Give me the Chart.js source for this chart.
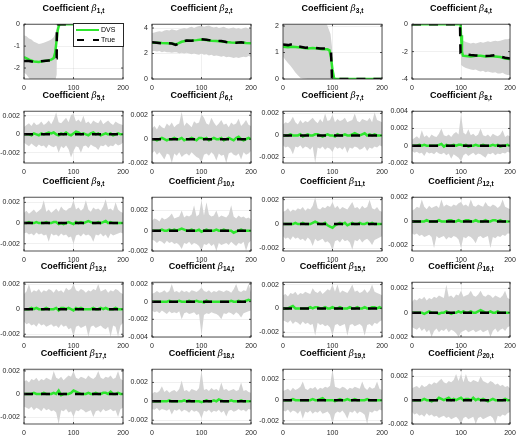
<!DOCTYPE html>
<html>
<head>
<meta charset="utf-8">
<script src="https://cdn.jsdelivr.net/npm/chart.js"></script>
<style>
body{margin:0;width:519px;height:446px;position:relative;overflow:hidden;background:#fff;font-family:"Liberation Sans",Arial,sans-serif}
canvas{position:absolute}
.ttl{position:absolute;font-size:9px;font-weight:bold;text-align:center;white-space:nowrap;color:#000;line-height:12px}
.ttl i{font-weight:normal;font-family:"DejaVu Serif",serif;font-size:9px}
.ttl sub{font-size:6.5px;vertical-align:-2px}
.lg{position:absolute;left:73px;top:23px;width:49px;height:22px;border:0.7px solid #262626;background:#fff;font-size:7px;color:#000}
.lg .s{position:absolute;height:2.4px}
.lg .t{position:absolute;left:27px;line-height:8px}
</style>
</head>
<body>
<script>
// time grid for the noise panels
const tGrid = [0,5,10,15,20,25,30,35,40,45,50,55,60,65,70,75,80,85,90,95,100,105,110,115,120,125,130,135,140,145,150,155,160,165,170,175,180,185,190,195,200];
const xTicks = [0,100,200];

// beta 1
const bandX1 = [0,5,10,15,20,25,30,35,40,45,50,55,60,63,66,67,200];
const up1 = [-0.5,-0.55,-0.65,-0.7,-0.8,-0.85,-0.9,-0.88,-0.85,-0.8,-0.75,-0.7,-0.6,-0.45,-0.2,0,0];
const lo1 = [-2.2,-2.3,-2.45,-2.6,-2.6,-2.6,-2.6,-2.6,-2.6,-2.6,-2.6,-2.6,-2.6,-2.6,-2.3,0,0];
const dvsX1 = [0,10,20,30,40,50,55,60,63,66,68,70,72,200];
const dvsY1 = [-1.5,-1.62,-1.7,-1.72,-1.68,-1.65,-1.62,-1.55,-1.3,-0.7,-0.3,-0.1,0,0];
const trueX1 = [0,10,20,30,40,50,60,62,66,66.5,200];
const trueY1 = [-1.68,-1.68,-1.72,-1.7,-1.68,-1.66,-1.64,-1.55,-1.55,0,0];

// beta 2
const up2 = [3.6,3.65,3.7,3.75,3.7,3.8,3.85,3.8,3.9,3.85,3.8,3.9,3.95,4.0,3.95,4.05,4.1,4.0,4.1,4.15,4.2,4.1,4.15,4.2,4.1,4.05,4.1,4.0,4.05,4.1,4.0,3.95,4.0,4.05,3.95,4.0,3.9,4.0,4.05,3.95,4.0];
const lo2 = [2.2,2.2,2.15,2.2,2.1,2.15,2.1,2.1,2.05,2.1,2.1,2.0,2.05,2.0,2.05,2.0,1.95,2.0,1.95,1.9,2.0,1.9,1.95,1.85,1.9,1.8,1.85,1.8,1.75,1.8,1.7,1.75,1.7,1.65,1.7,1.65,1.7,1.75,1.7,1.8,1.75];
const lineX2 = [0,10,20,30,40,48,52,60,70,80,90,100,110,120,130,140,150,160,170,180,190,200];
const dvsY2 = [2.85,2.85,2.82,2.8,2.78,2.72,2.78,2.92,3.0,3.02,3.05,3.1,3.06,3.0,2.98,2.95,2.9,2.86,2.85,2.86,2.82,2.8];
const trueY2 = [2.88,2.85,2.8,2.82,2.78,2.68,2.75,2.95,3.02,3.0,3.05,3.12,3.08,3.02,3.0,2.98,2.9,2.85,2.85,2.88,2.82,2.82];

// beta 3
const bandX3 = [0,5,10,15,20,25,30,35,40,50,60,70,80,88,92,96,99,101,200];
const up3 = [2.2,2.2,2.2,2.2,2.2,2.2,2.2,2.2,2.2,2.2,2.2,2.2,2.2,2.1,1.9,1.7,1.2,0,0];
const lo3 = [0.85,0.72,0.6,0.5,0.38,0.25,0.14,0.05,0.02,0,0,0,0,0,0,0,0,0,0];
const dvsX3 = [0,10,20,30,40,50,60,70,80,90,94,97,100,103,105,200];
const dvsY3 = [1.22,1.2,1.22,1.2,1.18,1.15,1.17,1.15,1.12,1.12,1.08,0.8,0.35,0.05,0,0];
const trueX3 = [0,10,20,25,35,45,55,65,75,85,92,97,99,200];
const trueY3 = [1.3,1.28,1.32,1.25,1.22,1.18,1.2,1.18,1.15,1.15,1.12,1.05,0,0];

// beta 4
const bandX4 = [0,100,101,105,110,115,120,125,130,135,140,145,150,155,160,165,170,175,180,185,190,195,200];
const up4 = [0,0,-1.1,-1.2,-1.3,-1.35,-1.4,-1.35,-1.4,-1.35,-1.3,-1.35,-1.3,-1.25,-1.3,-1.25,-1.2,-1.25,-1.2,-1.15,-1.1,-1.1,-1.05];
const lo4 = [0,0,-3.0,-3.1,-3.2,-3.25,-3.3,-3.35,-3.3,-3.4,-3.45,-3.4,-3.5,-3.45,-3.5,-3.55,-3.5,-3.6,-3.6,-3.55,-3.65,-3.7,-3.7];
const dvsX4 = [0,99,100,102,104,110,120,130,140,150,160,170,180,190,200];
const dvsY4 = [0,0,-0.8,-2.0,-2.3,-2.32,-2.35,-2.3,-2.3,-2.35,-2.32,-2.35,-2.4,-2.5,-2.55];
const trueX4 = [0,98,99,110,120,130,140,150,160,170,180,190,200];
const trueY4 = [0,0,-2.1,-2.2,-2.25,-2.28,-2.3,-2.32,-2.3,-2.25,-2.35,-2.45,-2.5];

// beta 5..20 (values in units of 0.001), true value is zero
const zeroX = [0,200];
const zeroY = [0,0];
const up5 = [0.8,1.0,1.2,0.9,1.3,1.0,1.1,1.4,1.0,1.2,1.5,1.1,1.6,2.4,1.3,1.2,1.5,1.8,1.3,2.1,2.2,1.4,1.6,1.3,2.0,1.2,1.4,1.1,1.5,1.3,1.2,1.6,1.1,1.3,1.5,1.2,1.0,1.4,1.2,1.1,1.0];
const lo5 = [-0.9,-1.1,-1.3,-1.0,-1.2,-1.4,-1.1,-1.3,-1.2,-1.5,-1.1,-1.3,-1.4,-1.2,-2.0,-1.3,-1.5,-1.2,-1.6,-2.5,-1.8,-1.3,-1.4,-2.0,-1.3,-1.2,-1.5,-1.1,-1.3,-1.4,-1.7,-1.2,-1.3,-1.1,-1.4,-1.2,-1.3,-1.0,-1.2,-1.1,-0.9];
const dvs5 = [0,0,0,-0.1,0.1,0,-0.1,0.1,0,0.1,0.2,0.1,0.2,0,-0.1,0.1,0,0.2,0,-0.1,0.1,0.3,0.2,0,0.1,0,-0.1,0.1,0.2,0,0.1,-0.1,0,0.1,0,0.1,-0.1,0,0.1,0,0];
const up6 = [0.9,1.1,0.8,1.2,1.0,0.9,1.3,1.1,1.4,1.0,1.2,1.3,2.3,1.1,1.4,1.2,1.0,1.5,1.3,1.4,2.1,1.8,1.3,1.2,1.8,1.4,1.1,1.3,1.6,1.2,1.3,1.0,1.4,1.2,1.3,1.7,1.1,1.3,1.6,1.2,1.1];
const lo6 = [-1.2,-1.0,-1.3,-1.1,-1.4,-1.7,-1.2,-1.3,-2.0,-1.2,-1.4,-1.1,-1.5,-1.3,-1.2,-1.4,-1.1,-1.3,-1.5,-1.6,-2.0,-1.3,-1.2,-1.4,-1.1,-1.3,-1.8,-1.2,-1.4,-1.3,-2.0,-1.2,-1.1,-1.3,-1.4,-1.2,-1.7,-1.1,-1.3,-1.2,-1.0];
const dvs6 = [0,0,-0.1,0,0.1,0,-0.1,0,0,0.1,0,0,0.1,-0.1,0,0,0.1,0,-0.1,0.1,0.1,0,0.1,-0.1,0,0.1,0,0,0.1,-0.1,0,0.1,0,-0.1,0.1,0.2,0,-0.1,0,0.1,0];
const up7 = [1.0,1.2,1.1,1.3,1.7,1.2,1.0,1.4,1.1,1.3,1.2,1.4,1.6,1.3,1.1,1.5,1.2,2.0,1.3,1.4,1.9,1.2,1.5,1.3,1.4,1.6,1.2,1.3,1.4,2.0,1.3,1.2,1.5,1.4,1.3,1.6,1.2,2.1,1.4,1.3,1.2];
const lo7 = [-0.9,-1.1,-1.0,-1.2,-1.7,-1.0,-1.1,-0.9,-1.2,-1.0,-1.1,-1.3,-1.0,-2.5,-1.1,-1.2,-1.0,-1.3,-1.1,-1.2,-1.5,-1.0,-1.2,-1.1,-1.3,-1.0,-1.6,-1.1,-1.2,-1.0,-1.1,-1.3,-1.2,-1.0,-1.4,-1.1,-1.2,-1.0,-1.1,-0.9,-1.0];
const dvs7 = [0,0,0,0.1,0,0,0,0.1,-0.1,0,0.1,0,0,0.1,0.1,0,-0.1,0,0.1,0,0,-0.1,0.1,0,0,0.1,0,0,0.1,0.2,0.1,0,0.1,0.2,0,0.1,0,0.1,0,0,0];
const up8 = [0.7,0.9,1.1,0.8,1.8,1.0,1.2,0.9,1.3,1.1,1.0,1.4,2.0,1.2,1.1,1.3,1.0,1.4,1.6,1.3,3.7,1.5,1.3,1.9,1.2,1.4,1.1,1.3,2.0,1.2,1.1,1.3,1.0,1.4,1.2,1.1,1.3,1.8,1.0,1.2,1.1];
const lo8 = [-0.6,-0.8,-0.7,-0.9,-0.8,-1.2,-0.7,-0.9,-0.8,-1.0,-0.7,-0.9,-1.0,-0.8,-1.1,-0.9,-1.5,-1.0,-1.2,-1.4,-1.8,-1.1,-0.9,-1.2,-1.0,-0.8,-1.1,-0.9,-1.0,-1.2,-1.4,-0.9,-1.0,-0.8,-1.1,-0.9,-1.0,-0.8,-0.9,-0.7,-0.8];
const dvs8 = [0,0,0,0.1,0,0.1,0,0,0,0,0,0.1,0.2,-0.1,0.1,0,0,0.1,0,0.1,0.1,0,0.1,-0.1,0,0,0.1,0,0,0.1,0,0,0,0.1,0,0.1,-0.1,0,0,0.1,0];
const up9 = [1.0,1.2,0.9,1.1,1.3,1.0,1.2,1.4,2.2,1.1,1.3,1.0,1.2,1.4,1.1,1.6,1.3,1.2,1.4,1.5,2.2,1.3,1.5,1.2,1.4,2.2,1.3,1.1,1.5,1.3,1.4,1.2,1.6,2.3,1.3,1.4,1.2,2.0,1.3,1.1,1.0];
const lo9 = [-1.0,-0.9,-1.1,-1.0,-1.2,-0.9,-1.1,-1.0,-1.2,-1.1,-1.8,-1.0,-1.2,-1.1,-1.3,-1.0,-1.2,-1.1,-1.4,-1.3,-2.0,-1.2,-1.1,-1.3,-1.0,-1.2,-1.1,-1.3,-1.8,-1.1,-1.2,-1.0,-1.3,-1.1,-1.5,-1.0,-1.2,-1.1,-1.0,-0.9,-1.0];
const dvs9 = [0,0,0.1,0,0,0.1,0,0,0,0.1,0,0,0.1,0.1,-0.1,0,-0.1,0,0.1,0,-0.1,0.1,0,0.1,0,0.1,0.2,0.1,0,0,0.1,0,0.1,0.2,0,0.1,0,0,0,0,0];
const up10 = [1.0,1.2,1.1,0.9,1.3,1.1,1.2,1.4,1.7,1.2,1.3,1.4,2.0,1.3,1.5,1.4,1.6,2.5,1.4,1.6,3.0,1.5,2.8,1.6,1.4,1.5,2.0,1.3,1.5,1.4,1.3,1.6,2.5,1.4,1.2,1.5,1.3,1.4,1.2,1.3,1.1];
const lo10 = [-0.9,-1.0,-1.2,-1.0,-1.1,-1.3,-1.0,-1.2,-1.1,-1.3,-1.2,-1.4,-1.8,-1.2,-1.3,-1.1,-1.4,-1.2,-1.3,-1.5,-2.0,-1.3,-1.4,-1.2,-1.5,-1.3,-2.0,-1.2,-1.4,-1.3,-1.2,-1.4,-1.1,-1.3,-1.5,-1.2,-1.3,-1.1,-2.0,-1.2,-1.0];
const dvs10 = [0,0,0,0,0.1,0,0,0.1,0,0.1,0,0.1,0.2,0.1,0,0,0.1,0,0,0.1,-0.1,0,0.1,0,0,0,0.1,0,0,0.1,0,0,0,-0.2,-0.1,0,0.1,0,0,0,0];
const up11 = [1.0,1.1,1.3,1.0,1.2,1.1,1.3,1.2,1.4,1.1,1.3,1.2,1.5,2.2,1.3,1.2,1.4,1.3,1.5,1.4,1.8,1.3,1.5,1.2,1.4,1.3,1.2,1.5,1.8,1.3,1.4,1.2,1.5,1.3,1.4,2.0,1.3,1.2,1.4,1.1,1.0];
const lo11 = [-1.0,-1.2,-1.1,-1.3,-1.0,-1.2,-1.1,-1.3,-1.2,-1.4,-1.1,-1.3,-1.8,-1.2,-1.4,-1.3,-1.2,-1.5,-1.4,-1.6,-2.2,-1.4,-1.3,-1.5,-1.2,-1.4,-1.3,-1.5,-2.1,-1.3,-1.4,-1.2,-1.5,-1.3,-1.2,-1.4,-1.7,-1.3,-1.2,-1.1,-1.0];
const dvs11 = [0,0,0,0,0,0.1,0,0,0.1,0,0,0,0.1,0.2,0.1,0,0,0.1,-0.1,-0.2,-0.3,-0.1,0,0.1,0,0.1,-0.1,0,0.1,0,0,0.1,0,0,0.1,0,0.1,0,0,0,0];
const up12 = [0.9,1.0,1.2,1.1,1.8,1.2,1.0,1.3,1.1,1.2,1.3,1.1,1.8,1.2,1.4,1.3,1.2,1.4,1.3,1.5,1.6,1.3,1.4,1.2,1.8,1.3,1.2,1.4,1.3,1.2,1.6,1.3,1.2,1.4,1.3,1.1,1.3,1.8,1.2,1.1,1.0];
const lo12 = [-1.0,-1.1,-1.0,-1.2,-1.1,-1.3,-1.2,-1.1,-1.3,-2.2,-1.2,-1.4,-1.3,-1.2,-1.5,-1.3,-1.4,-1.2,-1.3,-1.5,-2.2,-1.3,-1.4,-1.2,-1.3,-1.5,-1.8,-1.3,-1.2,-1.4,-1.3,-1.2,-2.2,-1.3,-1.4,-1.2,-1.3,-1.1,-1.2,-1.0,-1.0];
const dvs12 = [0,0,0,0,0,0,0.1,0,0,0,0,0.1,0,0,0,0.1,0.1,0,0,0.1,0,0,0.1,0.1,0,0,0.1,0,0,0,0.1,0,0,0.1,0.1,0,0.1,0,0,0,0];
const up13 = [1.2,1.4,2.0,1.3,1.5,1.4,1.6,1.3,1.5,1.4,1.6,1.5,1.3,1.6,1.4,1.5,1.3,1.7,1.5,1.6,2.0,1.5,1.4,1.6,1.5,1.3,1.5,1.4,1.6,1.5,2.0,1.4,1.5,1.6,1.3,1.5,1.4,1.6,1.5,1.3,1.2];
const lo13 = [-1.0,-1.2,-1.1,-1.3,-1.2,-1.4,-1.1,-1.3,-1.2,-1.4,-1.3,-1.2,-1.4,-1.3,-1.5,-1.2,-1.4,-1.3,-1.6,-1.5,-2.2,-1.4,-1.3,-1.5,-1.4,-1.3,-2.2,-1.4,-1.3,-1.5,-1.4,-1.3,-1.5,-1.6,-1.4,-2.2,-1.3,-1.4,-2.2,-1.3,-1.1];
const dvs13 = [0,0,0,0.1,0,0.1,0,0,0,0.1,0,0,0,0.1,-0.1,0.1,0.1,0,0.1,0,-0.1,0.1,0,0.1,0,0,0,0,0.1,0,0,0.1,0,0.1,0,0,0,0.1,0,0,0];
const up14 = [0.9,1.0,1.2,1.0,1.1,1.3,1.0,1.2,2.0,1.1,1.2,1.0,1.3,1.1,1.2,1.0,1.3,1.2,1.1,1.3,1.6,1.2,1.1,1.3,1.0,1.2,1.1,1.3,1.2,1.1,1.3,1.2,1.0,1.4,2.0,1.2,1.1,1.3,1.2,2.0,1.1];
const lo14 = [-1.0,-1.2,-1.1,-1.3,-1.0,-1.2,-1.4,-1.1,-1.3,-1.2,-1.3,-1.1,-2.0,-1.3,-1.2,-1.4,-1.3,-1.2,-1.5,-1.4,-3.8,-1.5,-1.3,-1.4,-1.2,-1.3,-1.4,-1.6,-2.0,-1.3,-1.4,-1.2,-1.3,-1.5,-1.2,-1.4,-1.8,-1.3,-1.2,-1.1,-1.0];
const dvs14 = [0,0,0,0,0,0,0,0.1,0,0,0,0.1,0,0,0,0.1,0,0,0.1,0,0,-0.1,0.1,0,0,0,0,0,0,0,0,0,0.1,0,0,0.1,0,0,0.1,0.2,0.1];
const up15 = [1.1,1.2,1.0,1.3,1.2,1.4,1.1,1.3,1.2,1.4,1.3,1.2,1.7,1.4,1.3,1.5,1.2,1.4,1.6,1.5,2.0,1.4,2.0,1.3,1.5,1.4,1.3,1.6,2.0,1.4,1.5,1.3,1.4,1.6,1.3,1.5,2.0,1.4,1.3,1.2,1.1];
const lo15 = [-1.0,-1.1,-1.2,-1.0,-1.3,-1.1,-1.2,-1.4,-1.1,-1.3,-1.2,-1.4,-1.3,-2.3,-1.2,-1.4,-1.3,-1.5,-1.4,-1.6,-2.3,-1.4,-1.3,-1.5,-1.4,-1.3,-2.3,-1.4,-1.3,-1.5,-1.4,-1.3,-1.5,-2.3,-1.4,-1.3,-1.5,-1.2,-1.3,-1.1,-1.0];
const dvs15 = [0,0,0,0.1,0.2,0,0,0,0,0,0,0.1,0,0.1,0.1,0,0,0.1,0,0,0.1,0,0,0.1,0,0,0,0.1,0,0,0.1,0,0,0.1,0,0,0.1,0.1,0,0.1,0];
const up16 = [0.9,1.1,1.0,1.2,1.1,1.3,1.0,1.2,1.1,1.3,1.2,1.4,1.3,1.2,2.3,1.3,1.4,1.2,1.5,1.4,1.8,1.3,1.4,1.5,1.8,1.4,1.3,1.5,1.8,1.4,1.3,1.5,1.4,1.2,1.4,1.3,1.2,1.4,1.8,1.2,1.1];
const lo16 = [-1.2,-1.3,-1.4,-1.2,-1.5,-1.3,-1.6,-1.4,-2.0,-1.5,-1.3,-1.6,-1.4,-1.5,-1.3,-1.6,-1.4,-1.5,-1.7,-2.0,-1.6,-1.5,-1.4,-1.6,-1.5,-1.4,-1.6,-1.5,-1.4,-1.6,-1.5,-1.4,-2.0,-1.5,-1.3,-1.6,-1.4,-1.3,-1.5,-1.2,-1.1];
const dvs16 = [0,0,0,0,0,-0.1,0,0.1,0,0,0,-0.1,0,0,0.1,0,-0.1,0,0,0.1,0,0.1,0,0,0.1,0,0,0.1,0.2,0.1,0,0,0.1,0,0,0.1,0,0,0,0,0];
const up17 = [1.1,1.2,1.0,1.3,1.2,1.4,1.1,1.3,1.2,1.4,1.3,1.2,2.0,1.4,1.3,1.5,1.2,1.4,1.6,1.5,2.0,1.4,1.3,1.5,1.4,1.3,1.6,1.4,1.3,1.5,2.0,1.4,1.3,1.5,1.4,1.6,1.3,1.4,2.0,1.3,1.2];
const lo17 = [-1.1,-1.2,-1.3,-1.1,-1.4,-1.2,-1.3,-1.5,-1.2,-1.4,-1.3,-1.5,-1.4,-1.6,-2.6,-1.4,-1.5,-1.3,-1.6,-1.5,-2.0,-1.4,-1.5,-1.3,-1.4,-1.6,-1.5,-1.4,-2.0,-1.5,-1.4,-1.6,-1.3,-1.5,-1.4,-1.3,-1.5,-1.4,-2.0,-1.3,-1.2];
const dvs17 = [0,0,0,0,0.1,0,0,0,0.1,0,0,0,0.1,0,0.3,-0.1,0,0,0,0.1,0.3,0.2,0.1,0,0,0,0.1,0,0,0.1,0,0,0.1,0.1,0,0.2,0,0,0.1,0,0];
const up18 = [0.8,1.0,0.9,1.1,1.6,1.0,1.2,0.9,1.1,1.2,1.0,1.3,2.2,1.1,1.2,1.0,1.3,1.2,1.1,1.4,3.3,1.2,1.3,1.1,1.4,1.2,1.3,1.1,2.0,1.2,1.3,1.1,1.2,1.3,1.1,1.2,2.0,1.1,1.2,1.0,0.9];
const lo18 = [-0.8,-0.9,-0.7,-1.0,-0.8,-0.9,-1.0,-0.8,-1.4,-0.9,-1.0,-0.8,-1.1,-0.9,-1.0,-1.2,-0.9,-1.1,-1.0,-1.2,-1.8,-1.0,-1.1,-0.9,-1.2,-1.0,-1.1,-0.9,-1.2,-1.0,-1.6,-1.0,-0.9,-1.1,-1.0,-0.8,-1.0,-0.9,-1.1,-0.8,-0.9];
const dvs18 = [0,0,0,0,0,0,0,0.1,0,0,0,0,0,0.1,0,0.1,0,0,0,0,-0.1,0,0.1,0,0,0.1,0,0.2,0.1,0,0,0,0.1,0,0,0,0.1,0,0,0,0];
const up19 = [0.9,1.0,1.1,0.9,1.2,1.0,1.1,1.3,1.8,1.1,1.0,1.2,1.1,1.3,1.0,1.2,1.1,1.3,1.2,1.4,3.0,1.3,1.2,1.1,1.3,1.2,1.0,1.2,1.1,1.3,1.2,1.1,1.8,1.2,1.0,1.3,1.1,1.2,1.8,1.1,1.0];
const lo19 = [-1.0,-1.1,-0.9,-1.2,-1.0,-1.1,-1.3,-1.0,-1.8,-1.1,-1.2,-1.0,-1.3,-1.1,-1.2,-1.0,-1.3,-1.2,-1.1,-1.4,-2.3,-1.3,-1.1,-1.2,-1.0,-1.3,-1.8,-1.1,-1.2,-1.0,-1.3,-1.1,-1.2,-1.4,-2.3,-1.1,-1.2,-1.0,-1.1,-0.9,-1.0];
const dvs19 = [0,0,0,0,0.1,0,0,0,0,0,0,0,0.1,0,0,0.1,0.2,0,0,0,0,-0.1,0,0.1,0,0,0.1,0,0,0.1,0,0,0,0,0.1,0,0,0,0,0,0];
const up20 = [1.0,1.1,1.2,1.0,1.3,1.1,1.2,1.4,1.3,1.5,1.4,1.6,1.8,1.5,1.4,1.6,1.5,1.7,2.2,1.6,2.2,1.5,2.2,1.6,1.5,1.7,1.6,1.5,2.0,1.6,1.5,1.4,1.6,1.5,1.3,1.4,1.2,1.3,1.1,1.2,1.0];
const lo20 = [-1.0,-1.2,-1.1,-1.3,-1.2,-1.4,-1.1,-1.3,-1.2,-1.4,-1.3,-1.5,-1.4,-1.3,-1.5,-1.4,-1.6,-1.5,-1.4,-1.6,-2.0,-1.5,-1.4,-1.6,-1.5,-1.4,-2.0,-1.5,-1.4,-1.6,-1.5,-1.4,-1.3,-1.5,-2.0,-1.3,-1.4,-1.2,-1.3,-1.1,-1.0];
const dvs20 = [0,0,0,0,0,0.1,0,0,-0.1,0,0,0.2,0.1,0,0.1,0.2,0,0.1,0,0.1,0.2,0,0.1,0.1,0,0.2,0,0.1,0,0.1,0,-0.1,0,0.1,0,0,0,0,0.1,0,0];

// y limits and ticks of each panel
const yLims = [[-2.5,0],[0,4.3],[0,2.07],[-4,0],
  [-0.0031,0.0025],[-0.002,0.00234],[-0.0025,0.0022],[-0.002,0.004],
  [-0.0027,0.0025],[-0.002,0.0033],[-0.0022,0.0022],[-0.00245,0.002],
  [-0.00222,0.00215],[-0.004,0.0022],[-0.0024,0.0022],[-0.002,0.0025],
  [-0.0026,0.00215],[-0.0024,0.0034],[-0.0023,0.003],[-0.002,0.0026]];
const smallTicks = [-0.002,0,0.002];
const yTickSets = [[-2,-1,0],[0,2,4],[0,1,2],[-4,-2,0],
  smallTicks,smallTicks,smallTicks,[-0.002,0,0.002,0.004],
  smallTicks,smallTicks,smallTicks,smallTicks,
  smallTicks,[-0.004,-0.002,0,0.002],smallTicks,smallTicks,
  smallTicks,smallTicks,smallTicks,smallTicks];

const panels = [
  {bx:bandX1, up:up1, lo:lo1, gx:dvsX1, gy:dvsY1, tx:trueX1, ty:trueY1, k:1},
  {bx:tGrid, up:up2, lo:lo2, gx:lineX2, gy:dvsY2, tx:lineX2, ty:trueY2, k:1},
  {bx:bandX3, up:up3, lo:lo3, gx:dvsX3, gy:dvsY3, tx:trueX3, ty:trueY3, k:1},
  {bx:bandX4, up:up4, lo:lo4, gx:dvsX4, gy:dvsY4, tx:trueX4, ty:trueY4, k:1},
  {bx:tGrid, up:up5, lo:lo5, gx:tGrid, gy:dvs5, tx:zeroX, ty:zeroY, k:0.001},
  {bx:tGrid, up:up6, lo:lo6, gx:tGrid, gy:dvs6, tx:zeroX, ty:zeroY, k:0.001},
  {bx:tGrid, up:up7, lo:lo7, gx:tGrid, gy:dvs7, tx:zeroX, ty:zeroY, k:0.001},
  {bx:tGrid, up:up8, lo:lo8, gx:tGrid, gy:dvs8, tx:zeroX, ty:zeroY, k:0.001},
  {bx:tGrid, up:up9, lo:lo9, gx:tGrid, gy:dvs9, tx:zeroX, ty:zeroY, k:0.001},
  {bx:tGrid, up:up10, lo:lo10, gx:tGrid, gy:dvs10, tx:zeroX, ty:zeroY, k:0.001},
  {bx:tGrid, up:up11, lo:lo11, gx:tGrid, gy:dvs11, tx:zeroX, ty:zeroY, k:0.001},
  {bx:tGrid, up:up12, lo:lo12, gx:tGrid, gy:dvs12, tx:zeroX, ty:zeroY, k:0.001},
  {bx:tGrid, up:up13, lo:lo13, gx:tGrid, gy:dvs13, tx:zeroX, ty:zeroY, k:0.001},
  {bx:tGrid, up:up14, lo:lo14, gx:tGrid, gy:dvs14, tx:zeroX, ty:zeroY, k:0.001},
  {bx:tGrid, up:up15, lo:lo15, gx:tGrid, gy:dvs15, tx:zeroX, ty:zeroY, k:0.001},
  {bx:tGrid, up:up16, lo:lo16, gx:tGrid, gy:dvs16, tx:zeroX, ty:zeroY, k:0.001},
  {bx:tGrid, up:up17, lo:lo17, gx:tGrid, gy:dvs17, tx:zeroX, ty:zeroY, k:0.001},
  {bx:tGrid, up:up18, lo:lo18, gx:tGrid, gy:dvs18, tx:zeroX, ty:zeroY, k:0.001},
  {bx:tGrid, up:up19, lo:lo19, gx:tGrid, gy:dvs19, tx:zeroX, ty:zeroY, k:0.001},
  {bx:tGrid, up:up20, lo:lo20, gx:tGrid, gy:dvs20, tx:zeroX, ty:zeroY, k:0.001}
];

// layout of the 4x5 grid (plot area edges in page pixels)
const colL = [24,152,283,412], colR = [123,251,382,510];
const rowT = [20,107,193,278,365], rowB = [79,163,251,337,424];
const ML = 44, MR = 14, MT = 4, MB = 16;
const green = '#2ee62e';

Chart.defaults.font.family = '"Liberation Sans", Arial, sans-serif';

const pts = (xs, ys, k) => xs.map((x, i) => ({x: x, y: ys[i] * k}));

// axes box with inward ticks, like matlab
const boxPlugin = {
  id: 'box',
  afterDraw(chart) {
    const a = chart.chartArea, ctx = chart.ctx;
    const sx = chart.scales.x, sy = chart.scales.y;
    ctx.save();
    ctx.strokeStyle = '#262626';
    ctx.lineWidth = 0.8;
    ctx.strokeRect(a.left, a.top, a.right - a.left, a.bottom - a.top);
    ctx.beginPath();
    sx.ticks.forEach(t => {
      const p = sx.getPixelForValue(t.value);
      ctx.moveTo(p, a.bottom); ctx.lineTo(p, a.bottom - 2);
      ctx.moveTo(p, a.top); ctx.lineTo(p, a.top + 2);
    });
    sy.ticks.forEach(t => {
      const p = sy.getPixelForValue(t.value);
      ctx.moveTo(a.left, p); ctx.lineTo(a.left + 2, p);
      ctx.moveTo(a.right, p); ctx.lineTo(a.right - 2, p);
    });
    ctx.stroke();
    ctx.restore();
  }
};

panels.forEach((p, i) => {
  const c = i % 4, r = Math.floor(i / 4);
  const w = colR[c] - colL[c], h = rowB[r] - rowT[r];
  const cv = document.createElement('canvas');
  cv.width = ML + w + MR; cv.height = MT + h + MB;
  cv.style.left = (colL[c] - ML) + 'px';
  cv.style.top = (rowT[r] - MT) + 'px';
  document.body.appendChild(cv);

  const ttl = document.createElement('div');
  ttl.className = 'ttl';
  ttl.style.left = colL[c] + 'px';
  ttl.style.width = w + 'px';
  ttl.style.top = (rowT[r] - 18) + 'px';
  ttl.innerHTML = 'Coefficient <i>β</i><sub>' + (i + 1) + ',t</sub>';
  document.body.appendChild(ttl);

  const yt = yTickSets[i];
  new Chart(cv, {
    type: 'line',
    data: {
      datasets: [
        {label: 'True', data: pts(p.tx, p.ty, p.k), borderColor: '#000', borderWidth: 2.5, borderDash: [9, 8], pointRadius: 0, fill: false},
        {label: 'DVS', data: pts(p.gx, p.gy, p.k), borderColor: green, borderWidth: 2.5, pointRadius: 0, fill: false},
        {label: 'upper', data: pts(p.bx, p.up, p.k), borderColor: 'rgba(0,0,0,0)', borderWidth: 0, backgroundColor: '#d3d3d3', pointRadius: 0, fill: '+1'},
        {label: 'lower', data: pts(p.bx, p.lo, p.k), borderColor: 'rgba(0,0,0,0)', borderWidth: 0, pointRadius: 0, fill: false}
      ]
    },
    options: {
      animation: false,
      responsive: false,
      events: [],
      layout: {padding: {left: 0, right: MR, top: MT, bottom: 0}, autoPadding: false},
      plugins: {legend: {display: false}, tooltip: {enabled: false}},
      scales: {
        x: {
          type: 'linear', min: 0, max: 200,
          afterBuildTicks: s => { s.ticks = xTicks.map(v => ({value: v})); },
          afterFit: s => { s.height = MB; },
          grid: {color: 'rgba(0,0,0,0.06)', drawTicks: false},
          border: {display: false},
          ticks: {font: {size: 7}, color: '#262626', padding: 5, maxRotation: 0, autoSkip: false}
        },
        y: {
          type: 'linear', min: yLims[i][0], max: yLims[i][1],
          afterBuildTicks: s => { s.ticks = yt.map(v => ({value: v})); },
          afterFit: s => { s.width = ML; },
          grid: {color: 'rgba(0,0,0,0.06)', drawTicks: false},
          border: {display: false},
          ticks: {font: {size: 7}, color: '#262626', padding: 4, callback: v => String(v)}
        }
      }
    },
    plugins: [boxPlugin]
  });
});

// legend of the first panel
const lg = document.createElement('div');
lg.className = 'lg';
lg.innerHTML = '<div class="s" style="left:2px;width:23px;top:5px;background:' + green + '"></div><div class="t" style="top:2px">DVS</div>' +
  '<div class="s" style="left:3px;width:7px;top:15px;background:#000"></div><div class="s" style="left:19px;width:6px;top:15px;background:#000"></div><div class="t" style="top:12px">True</div>';
document.body.appendChild(lg);
</script>
</body>
</html>
